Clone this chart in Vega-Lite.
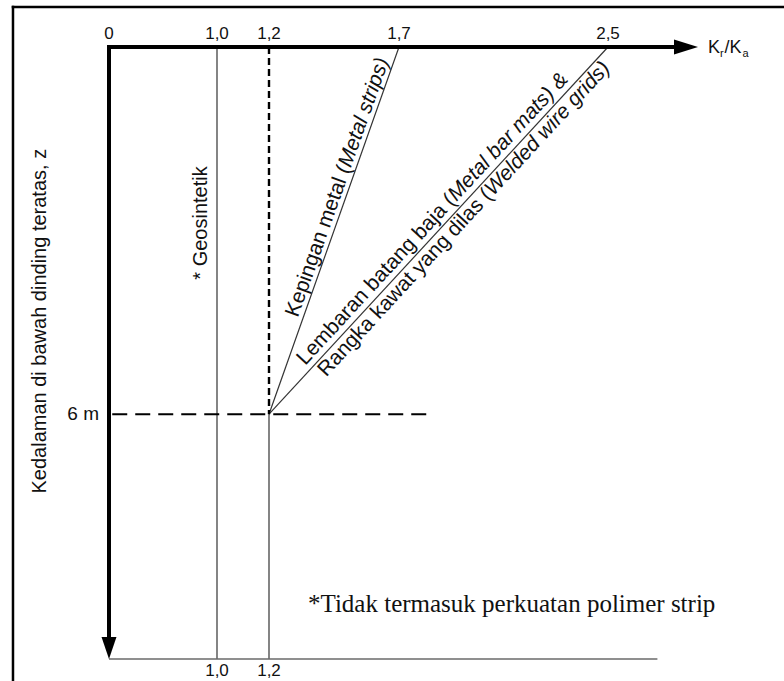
{
  "$schema": "https://vega.github.io/schema/vega-lite/v6.json",
  "description": "Variasi rasio Kr/Ka terhadap kedalaman di bawah dinding teratas",
  "width": 588,
  "height": 612,
  "autosize": "none",
  "padding": {"left": 109, "top": 47, "right": 87, "bottom": 22},
  "background": "white",
  "config": {"view": {"stroke": null}},
  "datasets": {
    "segs": [
      {"g": "axis", "x": 0, "y": 0, "x2": 2.75, "y2": 0},
      {"g": "axis", "x": 0, "y": 0, "x2": 0, "y2": 9.65},
      {"g": "frame", "x": -0.889, "y": -0.654, "x2": 3.3, "y2": -0.654},
      {"g": "frame", "x": -0.889, "y": -0.654, "x2": -0.889, "y2": 10.6},
      {"g": "thin", "x": 1, "y": 0, "x2": 1, "y2": 10},
      {"g": "thin", "x": 1.2, "y": 6, "x2": 1.2, "y2": 10},
      {"g": "thin", "x": 1.2, "y": 6, "x2": 1.7, "y2": 0},
      {"g": "thin", "x": 1.2, "y": 6, "x2": 2.5, "y2": 0},
      {"g": "base", "x": 0, "y": 10, "x2": 2.69, "y2": 10},
      {"g": "dashv", "x": 1.2, "y": 0, "x2": 1.2, "y2": 6},
      {"g": "dashh", "x": 0.03, "y": 6, "x2": 1.81, "y2": 6}
    ],
    "arrows": [
      {"g": "right", "x": 2.8, "y": 0},
      {"g": "down", "x": 0, "y": 9.82}
    ],
    "labels": [
      {"g": "top", "x": 0, "y": 0, "text": "0"},
      {"g": "top", "x": 1, "y": 0, "text": "1,0"},
      {"g": "top", "x": 1.2, "y": 0, "text": "1,2"},
      {"g": "top", "x": 1.7, "y": 0, "text": "1,7"},
      {"g": "top", "x": 2.5, "y": 0, "text": "2,5"},
      {"g": "bot", "x": 1, "y": 10, "text": "1,0"},
      {"g": "bot", "x": 1.2, "y": 10, "text": "1,2"},
      {"g": "depth", "x": 0, "y": 6, "text": "6 m"},
      {"g": "k1", "x": 2.8, "y": 0, "text": "K"},
      {"g": "r", "x": 2.8, "y": 0, "text": "r"},
      {"g": "k2", "x": 2.8, "y": 0, "text": "/K"},
      {"g": "a", "x": 2.8, "y": 0, "text": "a"},
      {"g": "ytitle", "x": -0.639, "y": 4.48, "text": "Kedalaman di bawah dinding teratas, z"},
      {"g": "geo", "x": 0.852, "y": 2.876, "text": "* Geosintetik"},
      {"g": "kep1", "x": 1.533, "y": 2.01, "text": "Kepingan metal ("},
      {"g": "kep2", "x": 1.533, "y": 2.01, "text": "Metal strips)"},
      {"g": "lem1", "x": 1.937, "y": 2.6, "text": "Lembaran batang baja ("},
      {"g": "lem2", "x": 1.937, "y": 2.6, "text": "Metal bar mats) &"},
      {"g": "ran1", "x": 2.013, "y": 2.255, "text": "Rangka kawat yang dilas ("},
      {"g": "ran2", "x": 2.013, "y": 2.255, "text": "Welded wire grids)"},
      {"g": "note", "x": 1.35, "y": 9.23, "text": "*Tidak termasuk perkuatan polimer strip"}
    ]
  },
  "encoding": {
    "x": {"field": "x", "type": "quantitative", "axis": null,
      "scale": {"domain": [0, 1, 1.2, 1.7, 2.5, 2.8], "range": [0, 108, 160, 290, 499, 577], "zero": false, "nice": false}},
    "y": {"field": "y", "type": "quantitative", "axis": null,
      "scale": {"domain": [0, 10], "reverse": true, "zero": false, "nice": false}}
  },
  "layer": [
    {
      "data": {"name": "segs"},
      "transform": [{"filter": "datum.g === 'frame'"}],
      "mark": {"type": "rule", "color": "black", "strokeWidth": 2.5, "strokeCap": "square"},
      "encoding": {"x2": {"field": "x2"}, "y2": {"field": "y2"}}
    },
    {
      "data": {"name": "segs"},
      "transform": [{"filter": "datum.g === 'thin'"}],
      "mark": {"type": "rule", "color": "#333", "strokeWidth": 1.2},
      "encoding": {"x2": {"field": "x2"}, "y2": {"field": "y2"}}
    },
    {
      "data": {"name": "segs"},
      "transform": [{"filter": "datum.g === 'base'"}],
      "mark": {"type": "rule", "color": "#6a6a6a", "strokeWidth": 1.5},
      "encoding": {"x2": {"field": "x2"}, "y2": {"field": "y2"}}
    },
    {
      "data": {"name": "segs"},
      "transform": [{"filter": "datum.g === 'dashv'"}],
      "mark": {"type": "rule", "color": "black", "strokeWidth": 2.4, "strokeDash": [7, 4]},
      "encoding": {"x2": {"field": "x2"}, "y2": {"field": "y2"}}
    },
    {
      "data": {"name": "segs"},
      "transform": [{"filter": "datum.g === 'dashh'"}],
      "mark": {"type": "rule", "color": "black", "strokeWidth": 2, "strokeDash": [15, 8]},
      "encoding": {"x2": {"field": "x2"}, "y2": {"field": "y2"}}
    },
    {
      "data": {"name": "segs"},
      "transform": [{"filter": "datum.g === 'axis'"}],
      "mark": {"type": "rule", "color": "black", "strokeWidth": 4, "strokeCap": "square"},
      "encoding": {"x2": {"field": "x2"}, "y2": {"field": "y2"}}
    },
    {
      "data": {"name": "arrows"},
      "transform": [{"filter": "datum.g === 'right'"}],
      "mark": {"type": "point", "filled": true, "opacity": 1, "color": "black", "size": 576, "shape": "M-1,-0.62L1,0L-1,0.62Z"}
    },
    {
      "data": {"name": "arrows"},
      "transform": [{"filter": "datum.g === 'down'"}],
      "mark": {"type": "point", "filled": true, "opacity": 1, "color": "black", "size": 484, "shape": "M-0.68,-1L0,1L0.68,-1Z"}
    },
    {
      "data": {"name": "labels"},
      "transform": [{"filter": "datum.g === 'top'"}],
      "mark": {"type": "text", "font": "Liberation Sans", "fontSize": 17, "color": "#111", "align": "center", "baseline": "alphabetic", "dy": -8},
      "encoding": {"text": {"field": "text"}}
    },
    {
      "data": {"name": "labels"},
      "transform": [{"filter": "datum.g === 'bot'"}],
      "mark": {"type": "text", "font": "Liberation Sans", "fontSize": 17, "color": "#111", "align": "center", "baseline": "alphabetic", "dy": 17},
      "encoding": {"text": {"field": "text"}}
    },
    {
      "data": {"name": "labels"},
      "transform": [{"filter": "datum.g === 'depth'"}],
      "mark": {"type": "text", "font": "Liberation Sans", "fontSize": 19, "color": "#111", "align": "right", "baseline": "middle", "dx": -10},
      "encoding": {"text": {"field": "text"}}
    },
    {
      "data": {"name": "labels"},
      "transform": [{"filter": "datum.g === 'k1'"}],
      "mark": {"type": "text", "font": "Liberation Sans", "fontSize": 18, "color": "#111", "align": "left", "baseline": "alphabetic", "dx": 22, "dy": 6},
      "encoding": {"text": {"field": "text"}}
    },
    {
      "data": {"name": "labels"},
      "transform": [{"filter": "datum.g === 'r'"}],
      "mark": {"type": "text", "font": "Liberation Sans", "fontSize": 11, "color": "#111", "align": "left", "baseline": "alphabetic", "dx": 34, "dy": 10},
      "encoding": {"text": {"field": "text"}}
    },
    {
      "data": {"name": "labels"},
      "transform": [{"filter": "datum.g === 'k2'"}],
      "mark": {"type": "text", "font": "Liberation Sans", "fontSize": 18, "color": "#111", "align": "left", "baseline": "alphabetic", "dx": 38.5, "dy": 6},
      "encoding": {"text": {"field": "text"}}
    },
    {
      "data": {"name": "labels"},
      "transform": [{"filter": "datum.g === 'a'"}],
      "mark": {"type": "text", "font": "Liberation Sans", "fontSize": 11, "color": "#111", "align": "left", "baseline": "alphabetic", "dx": 56.5, "dy": 10},
      "encoding": {"text": {"field": "text"}}
    },
    {
      "data": {"name": "labels"},
      "transform": [{"filter": "datum.g === 'ytitle' || datum.g === 'geo'"}],
      "mark": {"type": "text", "font": "Liberation Sans", "fontSize": 20, "color": "#111", "align": "center", "baseline": "middle", "angle": -90},
      "encoding": {"text": {"field": "text"}}
    },
    {
      "data": {"name": "labels"},
      "transform": [{"filter": "datum.g === 'kep1'"}],
      "mark": {"type": "text", "font": "Liberation Sans", "fontSize": 21, "color": "#111", "align": "right", "baseline": "alphabetic", "angle": -70.5, "dy": -5},
      "encoding": {"text": {"field": "text"}}
    },
    {
      "data": {"name": "labels"},
      "transform": [{"filter": "datum.g === 'kep2'"}],
      "mark": {"type": "text", "font": "Liberation Sans", "fontSize": 21, "fontStyle": "italic", "color": "#111", "align": "left", "baseline": "alphabetic", "angle": -70.5, "dy": -5},
      "encoding": {"text": {"field": "text"}}
    },
    {
      "data": {"name": "labels"},
      "transform": [{"filter": "datum.g === 'lem1'"}],
      "mark": {"type": "text", "font": "Liberation Sans", "fontSize": 21, "color": "#111", "align": "right", "baseline": "alphabetic", "angle": -47.3, "dy": -6},
      "encoding": {"text": {"field": "text"}}
    },
    {
      "data": {"name": "labels"},
      "transform": [{"filter": "datum.g === 'lem2'"}],
      "mark": {"type": "text", "font": "Liberation Sans", "fontSize": 21, "fontStyle": "italic", "color": "#111", "align": "left", "baseline": "alphabetic", "angle": -47.3, "dy": -6},
      "encoding": {"text": {"field": "text"}}
    },
    {
      "data": {"name": "labels"},
      "transform": [{"filter": "datum.g === 'ran1'"}],
      "mark": {"type": "text", "font": "Liberation Sans", "fontSize": 21, "color": "#111", "align": "right", "baseline": "alphabetic", "angle": -47.3, "dy": 17},
      "encoding": {"text": {"field": "text"}}
    },
    {
      "data": {"name": "labels"},
      "transform": [{"filter": "datum.g === 'ran2'"}],
      "mark": {"type": "text", "font": "Liberation Sans", "fontSize": 21, "fontStyle": "italic", "color": "#111", "align": "left", "baseline": "alphabetic", "angle": -47.3, "dy": 17},
      "encoding": {"text": {"field": "text"}}
    },
    {
      "data": {"name": "labels"},
      "transform": [{"filter": "datum.g === 'note'"}],
      "mark": {"type": "text", "font": "Liberation Serif", "fontSize": 25, "color": "#111", "align": "left", "baseline": "alphabetic"},
      "encoding": {"text": {"field": "text"}}
    }
  ]
}
